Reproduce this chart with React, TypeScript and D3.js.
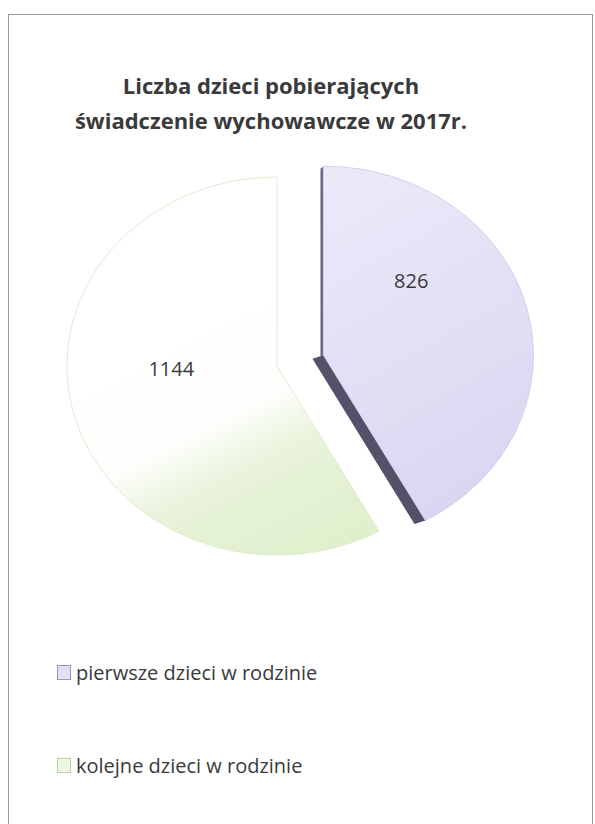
import React from "react";
import * as d3 from "d3";

const categories = ["pierwsze dzieci w rodzinie", "kolejne dzieci w rodzinie"];
const values = [826, 1144];
const titleLines = ["Liczba dzieci pobierających", "świadczenie wychowawcze w 2017r."];

const W = 595, H = 824;
const R = 210;
const SY = 0.9;
const CX = 277, CY = 366;
const EXPLODE = 48;

export default function App() {
  const pie = d3.pie<number>().sort(null).startAngle(0).endAngle(2 * Math.PI);
  const arcs = pie(values);
  const arc = d3.arc<d3.PieArcDatum<number>>().innerRadius(0).outerRadius(R);
  const labelArc = d3.arc<d3.PieArcDatum<number>>().innerRadius(R * 0.52).outerRadius(R * 0.52);

  const offsets = arcs.map((a, i) => {
    if (i !== 0) return [0, 0];
    const m = (a.startAngle + a.endAngle) / 2;
    return [EXPLODE * Math.sin(m), -EXPLODE * Math.cos(m)];
  });

  const labelShift = [[-18, -48], [0, -20]];

  // dark side edge of the exploded purple slice (along its end cut)
  const p = arcs[0];
  const endPt = [R * Math.sin(p.endAngle), -R * Math.cos(p.endAngle)];
  const depth = [-11, 4];
  const sidePath = `M0,0 L${endPt[0]},${endPt[1]} L${endPt[0] + depth[0]},${endPt[1] + depth[1]} L${depth[0]},${depth[1]} Z`;
  const leftSide = `M0,0 L0,${-R} L${-3},${-R + 3} L${-3},${3} Z`;

  const fills = ["url(#gPurple)", "url(#gGreen)"];
  const swatchFill = ["#e3e0f4", "#eef6e4"];
  const swatchStroke = ["#9a93c4", "#b9d49c"];

  return (
    <svg width={W} height={H} style={{ display: "block", position: "absolute", left: 0, top: 0 }}
      fontFamily="'Open Sans', 'DejaVu Sans', sans-serif">
      <defs>
        <linearGradient id="gGreen" gradientUnits="userSpaceOnUse" x1={-110} y1={-40} x2={30} y2={R}>
          <stop offset="0" stopColor="#ffffff" />
          <stop offset="0.4" stopColor="#fdfefb" />
          <stop offset="0.62" stopColor="#e8f3da" />
          <stop offset="1" stopColor="#e0efcd" />
        </linearGradient>
        <linearGradient id="gPurple" gradientUnits="userSpaceOnUse" x1={0} y1={-R} x2={R} y2={R * 0.6}>
          <stop offset="0" stopColor="#eceaf9" />
          <stop offset="0.5" stopColor="#e3e0f6" />
          <stop offset="1" stopColor="#dad6f1" />
        </linearGradient>
      </defs>
      <rect x={8.5} y={14.5} width={584} height={830} fill="#fff" stroke="#9a9a9a" strokeWidth={1} />
      <g fill="#3a3a3a" fontWeight="bold" fontSize={22} textAnchor="middle">
        {titleLines.map((t, i) => (
          <text key={i} x={271} y={94 + i * 35}>{t}</text>
        ))}
      </g>
      <g transform={`translate(${CX},${CY}) scale(1,${SY})`}>
        {arcs.map((a, i) => (
          <g key={i} transform={`translate(${offsets[i][0]},${offsets[i][1]})`}>
            {i === 0 && <path d={sidePath} fill="#55516b" />}
            {i === 0 && <path d={leftSide} fill="#6b6784" />}
            <path d={arc(a) || ""} fill={fills[i]}
              stroke={i === 0 ? "#d2cdea" : "#dcebcb"} strokeWidth={1} />
          </g>
        ))}
      </g>
      <g fontSize={20} fill="#3a3a3a" textAnchor="middle">
        {arcs.map((a, i) => {
          const c = labelArc.centroid(a);
          const x = CX + offsets[i][0] + c[0] + labelShift[i][0];
          const y = CY + (offsets[i][1] + c[1]) * SY + labelShift[i][1];
          return <text key={i} x={x} y={y} dominantBaseline="middle">{values[i]}</text>;
        })}
      </g>
      <g fontSize={20} fill="#3a3a3a">
        {categories.map((c, i) => (
          <g key={i} transform={`translate(57,${665 + i * 93})`}>
            <rect x={0.5} y={0.5} width={13} height={14} fill={swatchFill[i]} stroke={swatchStroke[i]} />
            <text x={19} y={15}>{c}</text>
          </g>
        ))}
      </g>
    </svg>
  );
}
